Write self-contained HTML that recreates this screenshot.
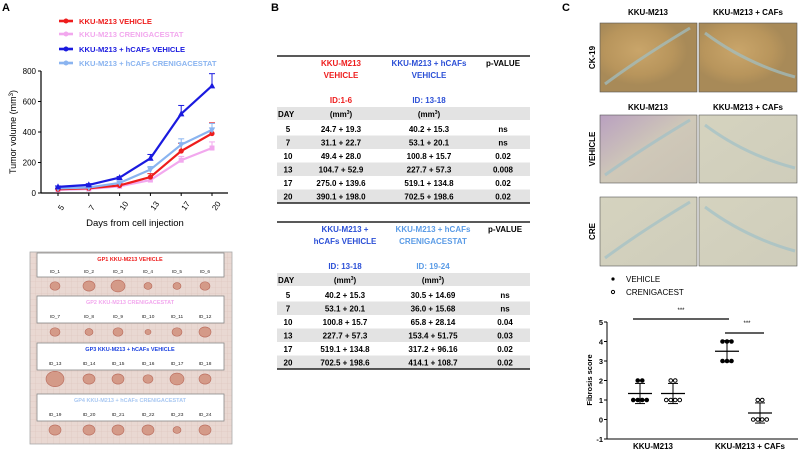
<!DOCTYPE html>
<html><head><meta charset="utf-8"><style>
body{margin:0;background:#fff;}
svg{display:block;font-family:"Liberation Sans",Arial,sans-serif;}
</style></head><body>
<svg id="fig" width="798" height="451" viewBox="0 0 798 451" xmlns="http://www.w3.org/2000/svg">
<defs>
<pattern id="grid" width="6" height="6" patternUnits="userSpaceOnUse"><rect width="6" height="6" fill="#e9d8d2"/><path d="M6 0V6H0" fill="none" stroke="#dcc3bb" stroke-width="0.6"/></pattern>
<radialGradient id="ck" cx="40%" cy="40%"><stop offset="0" stop-color="#c9a56a"/><stop offset="0.7" stop-color="#b8955c"/><stop offset="1" stop-color="#a88a58"/></radialGradient>
<linearGradient id="he1" x1="0" y1="0" x2="1" y2="1"><stop offset="0" stop-color="#b9a0c0"/><stop offset="0.5" stop-color="#cfc8b8"/><stop offset="1" stop-color="#c9c2b5"/></linearGradient>
<linearGradient id="he2" x1="0" y1="0" x2="1" y2="1"><stop offset="0" stop-color="#d5d3bf"/><stop offset="1" stop-color="#cfcdbb"/></linearGradient>
</defs>
<g id="panelA">
<text x="2" y="11" font-size="11" font-weight="bold">A</text>
<g id="legendA"></g>
<g id="chartA"></g>
<text x="135" y="226" font-size="9.5" text-anchor="middle">Days from cell injection</text>
<text transform="translate(16,132) rotate(-90)" font-size="9" text-anchor="middle">Tumor volume (mm<tspan dy="-3" font-size="6">3</tspan><tspan dy="3">)</tspan></text>
<g>
<rect x="30" y="252" width="202" height="192" fill="url(#grid)" stroke="#aaa" stroke-width="0.8"/>
<g id="photoBoxes"></g>
</g>
</g>
<g id="panelB">
<text x="271" y="11" font-size="11" font-weight="bold">B</text>
<g id="table1"></g>
<g id="table2"></g>
</g>
<g id="panelC">
<text x="562" y="11" font-size="11" font-weight="bold">C</text>
<g id="histo"></g>
<g id="scatter"></g>
</g>
</svg>
<script>
const NS="http://www.w3.org/2000/svg";
function mk(p,t,a,txt){const e=document.createElementNS(NS,t);for(const k in a)e.setAttribute(k,a[k]);if(txt!==undefined)e.textContent=txt;p.appendChild(e);return e;}

// ---- Chart A data ----
const days=["5","7","10","13","17","20"];
const redVals=[24.7,31.1,49.4,104.7,275.0,390.1];
const redErr=[8,9,12,22,50,70];
const pinkVals=[20,26,44,85,215,295];
const pinkErr=[6,7,10,18,25,40];
const blueVals=[40.2,53.1,100.8,227.7,519.1,702.5];
const blueErr=[6,8,7,25,55,80];
const lbVals=[30.5,36.0,65.8,153.4,317.2,414.1];
const lbErr=[6,7,11,20,38,42];
const yTicks=[0,200,400,600,800];
const seriesNames=["KKU-M213 VEHICLE","KKU-M213 CRENIGACESTAT","KKU-M213 + hCAFs VEHICLE","KKU-M213 + hCAFs CRENIGACESTAT"];
const seriesColors=["#ee1c1c","#f2a8ee","#1a1adf","#8ab4f0"];

const A=document.getElementById('chartA');
const xA=i=>58+i*(212-58)/(days.length-1);
const yA=v=>193-v*(122/800);
mk(A,'line',{x1:41,y1:yA(800),x2:41,y2:193,stroke:'#000','stroke-width':1.2});
mk(A,'line',{x1:41,y1:193,x2:228,y2:193,stroke:'#000','stroke-width':1.2});
yTicks.forEach(t=>{
 mk(A,'line',{x1:38,y1:yA(t),x2:41,y2:yA(t),stroke:'#000'});
 const tx=mk(A,'text',{x:36,y:yA(t)+3,'font-size':8,'text-anchor':'end'},t);
 
 
});
days.forEach((d,i)=>{
 mk(A,'line',{x1:xA(i),y1:193,x2:xA(i),y2:196,stroke:'#000'});
 const tx=mk(A,'text',{transform:`translate(${xA(i)+4},${211}) rotate(-55)`,'font-size':8},d);
 
 
});
const allS=[[pinkVals,pinkErr,1,'square'],[redVals,redErr,0,'circle'],[lbVals,lbErr,3,'tridown'],[blueVals,blueErr,2,'tri']];
allS.forEach(([vals,err,ci,shape])=>{
 const c=seriesColors[ci];
 const g=mk(A,'g',{});
 
 
 vals.forEach((v,i)=>{
  mk(g,'line',{x1:xA(i),y1:yA(v),x2:xA(i),y2:yA(v+err[i]),stroke:c,'stroke-width':1});
  mk(g,'line',{x1:xA(i)-3,y1:yA(v+err[i]),x2:xA(i)+3,y2:yA(v+err[i]),stroke:c,'stroke-width':1});
 });
 mk(g,'polyline',{points:vals.map((v,i)=>xA(i)+','+yA(v)).join(' '),fill:'none',stroke:c,'stroke-width':2.2});
 vals.forEach((v,i)=>{
  const x=xA(i),y=yA(v);
  let m;
  if(shape==='circle')m=mk(g,'circle',{cx:x,cy:y,r:2.6,fill:c});
  else if(shape==='square')m=mk(g,'rect',{x:x-2.5,y:y-2.5,width:5,height:5,fill:c});
  else if(shape==='tri')m=mk(g,'polygon',{points:`${x},${y-3.5} ${x-3.2},${y+2.5} ${x+3.2},${y+2.5}`,fill:c});
  else m=mk(g,'polygon',{points:`${x},${y+3.5} ${x-3.2},${y-2.5} ${x+3.2},${y-2.5}`,fill:c});
  
  
 });
});
const LA=document.getElementById('legendA');
[21,34,49,63].forEach((y,i)=>{
 const c=seriesColors[i];
 mk(LA,'line',{x1:59,y1:y,x2:73,y2:y,stroke:c,'stroke-width':2.6});
 mk(LA,'circle',{cx:66,cy:y,r:2.5,fill:c});
 const t=mk(LA,'text',{x:79,y:y+3,'font-size':7.6,'font-weight':'bold',fill:c},seriesNames[i]);
 
 
});

// photo panel
const PB=document.getElementById('photoBoxes');
const gpTitles=["GP1 KKU-M213 VEHICLE","GP2 KKU-M213 CRENIGACESTAT","GP3 KKU-M213 + hCAFs VEHICLE","GP4 KKU-M213 + hCAFs CRENIGACESTAT"];
const gpColors=["#ee1c1c","#f2a8ee","#1a40df","#a9c8f2"];
const boxTop=[253,296,343,394];
const idX=[55,89,118,148,177,205];
const tumorR=[[5,6,7,4,4,5],[5,4,5,3,5,6],[9,6,6,5,7,6],[6,6,6,6,4,6]];
boxTop.forEach((y,b)=>{
 const g=mk(PB,'g',{});
 
 
 mk(g,'rect',{x:37,y:y,width:187,height:b===0?24:27,fill:'#fff',stroke:'#888','stroke-width':0.8});
 mk(g,'text',{x:130,y:y+8,'font-size':5.5,'font-weight':'bold','text-anchor':'middle',fill:gpColors[b]},gpTitles[b]);
 idX.forEach((x,i)=>{
  mk(g,'text',{x:x,y:y+(b===0?20:22),'font-size':4.8,'text-anchor':'middle',fill:'#222'},'ID_'+(b*6+i+1));
  const r=tumorR[b][i];
  mk(g,'ellipse',{cx:x,cy:y+(b===0?33:36),rx:r,ry:r*0.85,fill:'#d49a88',stroke:'#b8695a','stroke-width':0.6});
 });
});

// ---- Tables ----
function table(el,top,h1,h2,ids,colX,rows){
 const g=document.getElementById(el);
 const fs=8;
 mk(g,'line',{x1:277,y1:top,x2:530,y2:top,stroke:'#222','stroke-width':1.5});
 mk(g,'text',{x:colX[0],y:top+10,'font-size':fs,'font-weight':'bold','text-anchor':'middle',fill:h1[2]},h1[0]);
 mk(g,'text',{x:colX[0],y:top+22,'font-size':fs,'font-weight':'bold','text-anchor':'middle',fill:h1[2]},h1[1]);
 mk(g,'text',{x:colX[1],y:top+10,'font-size':fs,'font-weight':'bold','text-anchor':'middle',fill:h2[2]},h2[0]);
 mk(g,'text',{x:colX[1],y:top+22,'font-size':fs,'font-weight':'bold','text-anchor':'middle',fill:h2[2]},h2[1]);
 mk(g,'text',{x:colX[2],y:top+10,'font-size':fs,'font-weight':'bold','text-anchor':'middle'},'p-VALUE');
 mk(g,'text',{x:colX[0],y:top+47,'font-size':fs,'font-weight':'bold','text-anchor':'middle',fill:ids[0][1]},ids[0][0]);
 mk(g,'text',{x:colX[1],y:top+47,'font-size':fs,'font-weight':'bold','text-anchor':'middle',fill:ids[1][1]},ids[1][0]);
 mk(g,'rect',{x:277,y:top+51,width:253,height:13,fill:'#e3e3e3'});
 mk(g,'text',{x:278,y:top+61,'font-size':fs,'font-weight':'bold'},'DAY');
 [0,1].forEach(k=>{const t=mk(g,'text',{x:colX[k],y:top+61,'font-size':fs,'font-weight':'bold','text-anchor':'middle'},'(mm');mk(t,'tspan',{dy:-3,'font-size':5},'3');mk(t,'tspan',{dy:3},')');});
 rows.forEach((r,i)=>{
  const y=top+66+i*13.5;
  if(i%2===1)mk(g,'rect',{x:277,y:y,width:253,height:13.5,fill:'#e3e3e3'});
  const row=mk(g,'g',{});
  
  
  mk(row,'text',{x:288,y:y+10,'font-size':fs,'font-weight':'bold','text-anchor':'middle'},r[0]);
  mk(row,'text',{x:colX[0],y:y+10,'font-size':fs,'font-weight':'bold','text-anchor':'middle'},r[1]);
  mk(row,'text',{x:colX[1],y:y+10,'font-size':fs,'font-weight':'bold','text-anchor':'middle'},r[2]);
  mk(row,'text',{x:colX[2],y:y+10,'font-size':fs,'font-weight':'bold','text-anchor':'middle'},r[3]);
 });
 const bot=top+66+rows.length*13.5;
 mk(g,'line',{x1:277,y1:bot,x2:530,y2:bot,stroke:'#222','stroke-width':1.5});
}
table('table1',56,['KKU-M213','VEHICLE','#ee1c1c'],['KKU-M213 + hCAFs','VEHICLE','#2b4fd6'],[['ID:1-6','#ee1c1c'],['ID: 13-18','#2b4fd6']],[341,429,503],
 [['5','24.7 + 19.3','40.2 + 15.3','ns'],['7','31.1 + 22.7','53.1 + 20.1','ns'],['10','49.4 + 28.0','100.8 + 15.7','0.02'],['13','104.7 + 52.9','227.7 + 57.3','0.008'],['17','275.0 + 139.6','519.1 + 134.8','0.02'],['20','390.1 + 198.0','702.5 + 198.6','0.02']]);
table('table2',222,['KKU-M213 +','hCAFs  VEHICLE','#2b4fd6'],['KKU-M213 + hCAFs','CRENIGACESTAT','#5a9be6'],[['ID: 13-18','#2b4fd6'],['ID: 19-24','#5a9be6']],[345,433,505],
 [['5','40.2 + 15.3','30.5 + 14.69','ns'],['7','53.1 + 20.1','36.0 + 15.68','ns'],['10','100.8 + 15.7','65.8 + 28.14','0.04'],['13','227.7 + 57.3','153.4 + 51.75','0.03'],['17','519.1 + 134.8','317.2 + 96.16','0.02'],['20','702.5 + 198.6','414.1 + 108.7','0.02']]);

// ---- Histology ----
const H=document.getElementById('histo');
const rowsH=[[23,92,'CK-19','url(#ck)','url(#ck)'],[115,183,'VEHICLE','url(#he1)','url(#he2)'],[197,266,'CRE','url(#he2)','url(#he2)']];
[[12],[107]].forEach(([y])=>{
 mk(H,'text',{x:648,y:y+3,'font-size':8,'font-weight':'bold','text-anchor':'middle'},'KKU-M213');
 mk(H,'text',{x:748,y:y+3,'font-size':8,'font-weight':'bold','text-anchor':'middle'},'KKU-M213 + CAFs');
});
rowsH.forEach(([y0,y1,lab,f1,f2])=>{
 const g=mk(H,'g',{});
 
 
 mk(g,'rect',{x:600,y:y0,width:97,height:y1-y0,fill:f1,stroke:'#555','stroke-width':0.6});
 mk(g,'rect',{x:699,y:y0,width:98,height:y1-y0,fill:f2,stroke:'#555','stroke-width':0.6});
 mk(g,'path',{d:`M605 ${y1-8} Q640 ${y0+35} 690 ${y0+5}`,stroke:'#9fc0c8','stroke-width':3,fill:'none',opacity:0.7});
 mk(g,'path',{d:`M705 ${y0+10} Q745 ${y0+40} 795 ${y1-15}`,stroke:'#9fc0c8','stroke-width':3,fill:'none',opacity:0.7});
 mk(g,'text',{transform:`translate(595,${(y0+y1)/2}) rotate(-90)`,'font-size':8,'font-weight':'bold','text-anchor':'middle'},lab);
});

// ---- Fibrosis scatter ----
const groupLabels=["KKU-M213","KKU-M213 + CAFs"];
const veh1=[2,2,1,1,1,1];
const cre1=[2,2,1,1,1,1];
const veh2=[4,4,4,3,3,3];
const cre2=[1,1,0,0,0,0];
const fTicks=[-1,0,1,2,3,4,5];
const S=document.getElementById('scatter');
const yS=v=>439-(v+1)*19.5;
mk(S,'circle',{cx:613,cy:279,r:1.6,fill:'#000'});
mk(S,'text',{x:626,y:282,'font-size':8},'VEHICLE');
mk(S,'circle',{cx:613,cy:292,r:1.6,fill:'none',stroke:'#000','stroke-width':1});
mk(S,'text',{x:626,y:295,'font-size':8},'CRENIGACEST');
mk(S,'line',{x1:607,y1:yS(5),x2:607,y2:yS(-1),stroke:'#000'});
mk(S,'line',{x1:607,y1:yS(-1),x2:798,y2:yS(-1),stroke:'#000'});
fTicks.forEach(t=>{
 mk(S,'line',{x1:604,y1:yS(t),x2:607,y2:yS(t),stroke:'#000'});
 const tx=mk(S,'text',{x:603,y:yS(t)+3,'font-size':7.5,'font-weight':'bold','text-anchor':'end'},t);
 
 
});
mk(S,'text',{transform:'translate(592,380) rotate(-90)','font-size':7.5,'font-weight':'bold','text-anchor':'middle'},'Fibrosis score');
mk(S,'text',{x:653,y:449,'font-size':8,'font-weight':'bold','text-anchor':'middle'},groupLabels[0]);
mk(S,'text',{x:750,y:449,'font-size':8,'font-weight':'bold','text-anchor':'middle'},groupLabels[1]);
const groups=[[veh1,640,true],[cre1,673,false],[veh2,727,true],[cre2,760,false]];
groups.forEach(([vals,cx,filled])=>{
 const g=mk(S,'g',{});
 
 
 const mean=vals.reduce((a,b)=>a+b,0)/vals.length;
 const sd=Math.sqrt(vals.reduce((a,b)=>a+(b-mean)*(b-mean),0)/(vals.length-1));
 mk(g,'line',{x1:cx,y1:yS(mean-sd),x2:cx,y2:yS(mean+sd),stroke:'#000'});
 mk(g,'line',{x1:cx-5,y1:yS(mean+sd),x2:cx+5,y2:yS(mean+sd),stroke:'#000'});
 mk(g,'line',{x1:cx-5,y1:yS(mean-sd),x2:cx+5,y2:yS(mean-sd),stroke:'#000'});
 mk(g,'line',{x1:cx-12,y1:yS(mean),x2:cx+12,y2:yS(mean),stroke:'#000','stroke-width':1.2});
 const counts={};
 vals.forEach(v=>{counts[v]=(counts[v]||0)+1;});
 const seen={};
 vals.forEach(v=>{
  const n=counts[v],k=seen[v]=(seen[v]||0)+1;
  const x=cx+(k-1-(n-1)/2)*4.5;
  const p=mk(g,'circle',{cx:x,cy:yS(v),r:1.8,fill:filled?'#000':'#fff',stroke:'#000','stroke-width':1});
  
  
 });
});
mk(S,'line',{x1:633,y1:319,x2:729,y2:319,stroke:'#000','stroke-width':1.3});
mk(S,'text',{x:681,y:312,'font-size':6,'text-anchor':'middle'},'***');
mk(S,'line',{x1:725,y1:333,x2:764,y2:333,stroke:'#000','stroke-width':1.3});
mk(S,'text',{x:747,y:325,'font-size':6,'text-anchor':'middle'},'***');
</script>
</body></html>
